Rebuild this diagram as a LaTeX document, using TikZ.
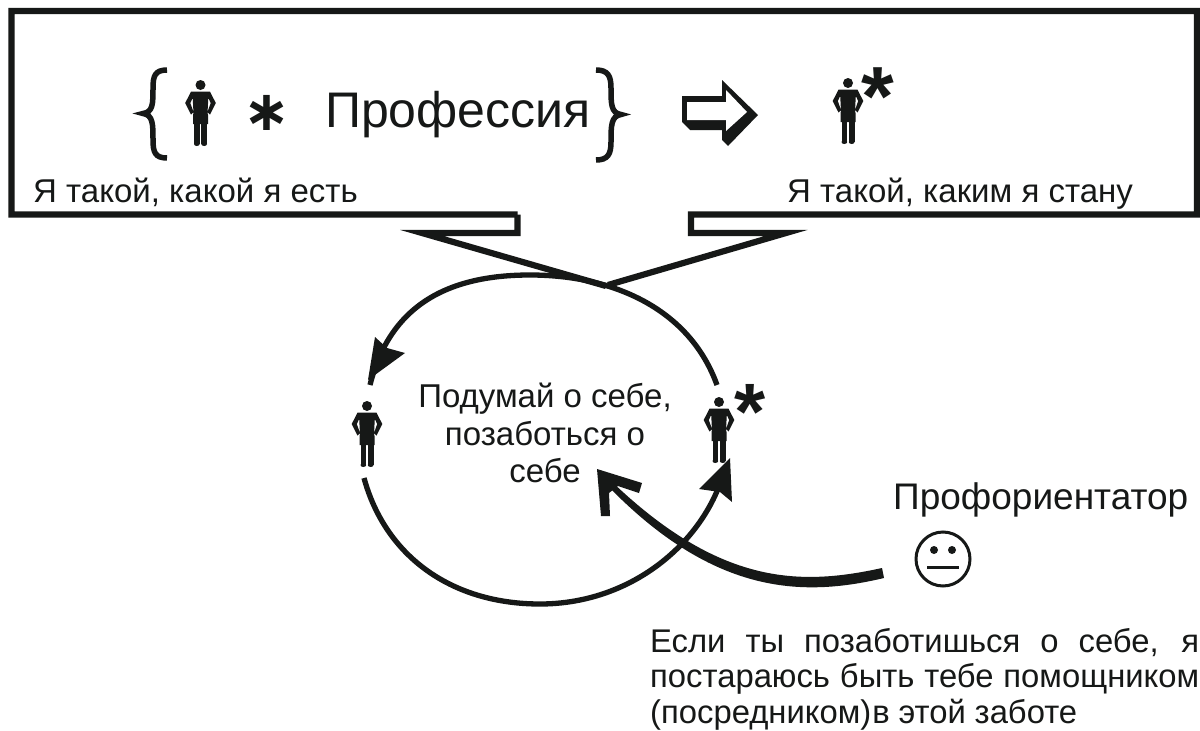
\documentclass[tikz,border=0pt]{standalone}
\usepackage{fontspec}
\setmainfont{Liberation Sans}
\newfontfamily\djv{DejaVu Sans}[Scale=1]
\definecolor{ink}{HTML}{161817}
\newcommand{\fsz}[1]{\fontsize{#1}{#1}\selectfont}
\tikzset{
  x=1pt,y=-1pt,
  inkline/.style={draw=ink,line width=#1,line join=miter},
  lbl/.style={text=ink,inner sep=0pt,anchor=base},
  lbll/.style={text=ink,inner sep=0pt,anchor=base west},
  person/.pic={
    \fill[ink] (0,0) circle[radius=5];
    \fill[ink] (-9.5,6.7) -- (9.5,6.7) -- (15.3,18) -- (9.5,29.5) -- (7,27) -- (10.2,18) -- (7.8,13) -- (7,28) -- (7.5,30) -- (7.5,39) -- (-7.5,39) -- (-7.5,30) -- (-7,28) -- (-7.8,13) -- (-10.2,18) -- (-7,27) -- (-9.5,29.5) -- (-15.3,18) -- cycle;
    \fill[ink] (-6.5,38) rectangle (-0.8,59);
    \fill[ink] (0.8,38) rectangle (6.5,59);
    \fill[ink] (-3.65,59) circle[x radius=2.85,y radius=2];
    \fill[ink] (3.65,59) circle[x radius=2.85,y radius=2];
  }
}
\begin{document}
\begin{tikzpicture}
\useasboundingbox (0,0) rectangle (1200,731);
\fill[white] (0,0) rectangle (1200,731);
% callout outline
\draw[inkline=6.2pt] (517.5,214.5) -- (11.5,214.5) -- (11.5,11) -- (1197,11) -- (1197,214.5) -- (691,214.5) -- (691,233) -- (786,233) -- (608,285);
\draw[inkline=6.2pt] (606,286) -- (422,233) -- (517.5,233) -- (517.5,214.5);
% braces
\draw[ink,line width=5.5pt] (167,70) .. controls (155,70) and (153,76) .. (153,88) .. controls (153,104) and (153,112) .. (143,113.5) .. controls (153,115) and (153,124) .. (153,140) .. controls (153,152) and (155,158) .. (167,158);
\draw[ink,line width=5.5pt] (596,70) .. controls (608,70) and (611,76) .. (611,88) .. controls (611,104) and (611,113) .. (621,114.5) .. controls (611,116) and (611,126) .. (611,142) .. controls (611,154) and (608,160) .. (596,160);
% persons
\pic at (200.5,85) {person};
\pic at (848,83) {person};
\pic at (367,406) {person};
\pic at (719,402) {person};
% titles
\node[lbl] (star1) at (267,130) {\djv\bfseries\fsz{56}∗};
\node[lbll] (prof) at (325,127) {\fsz{50}Профессия};
\node[lbl] (star2) at (878,125) {\bfseries\fsz{84}*};
\node[lbl] (star3) at (750,439) {\bfseries\fsz{80}*};
\node[lbll] (l1) at (33,202) {\fsz{33}Я такой, какой я есть};
\node[lbll] (l2) at (787,202) {\fsz{33}Я такой, каким я стану};
% block arrow
\fill[ink] (682,96) -- (722,96) -- (722,80) -- (758,115) -- (728,146) -- (722,140) -- (722,130) -- (690,130) -- (682,122) -- cycle;
\fill[white] (687,102) -- (726,102) -- (726,90) -- (747,112) -- (726,131) -- (726,120) -- (687,120) -- cycle;
% circle arcs
\coordinate (a1) at (717,385);
\coordinate (a2) at (370,385);
\coordinate (b1) at (364,478);
\coordinate (b2) at (722,478);
\draw[ink,line width=5.3pt] (a1) .. controls (690,310) and (615,275) .. (530,275) .. controls (448,275) and (390,305) .. (a2);
\fill[ink] (368,380) -- (375,337) -- (387,348) -- (405,353) -- cycle;
\draw[ink,line width=5.3pt] (b1) .. controls (385,555) and (450,604) .. (540,604) .. controls (630,604) and (700,545) .. (b2);
\fill[ink] (730,458) -- (699,489) -- (720,492) -- (732,502) -- cycle;
% centre text
\node[lbl] (c1) at (545,407) {\fsz{33}Подумай о себе,};
\node[lbl] (c2) at (545,445) {\fsz{33}позаботься о};
\node[lbl] (c3) at (545,482) {\fsz{33}себе};
% thick arrow
\fill[ink] (882,568) .. controls (800,586) and (719,586) .. (608,478) -- (604,482) .. controls (711,594) and (800,598) .. (884,578) -- cycle;
\fill[ink] (597,469) -- (642,483) -- (639,493) -- (618,486) -- (609,493) -- (610,516) -- (601,516) -- cycle;
% right
\node[lbll] (pf) at (893,509) {\fsz{37}Профориентатор};
\draw[ink,line width=3pt] (943,559) circle[radius=27];
\fill[ink] (934,550) circle[radius=4];
\fill[ink] (952,550) circle[radius=4];
\draw[ink,line width=3pt] (927,567) -- (959,567);
\node[lbll] (e1) at (650,652) {\fsz{32.8}\makebox[549pt][s]{Если ты позаботишься о себе, я}};
\node[lbll] (e2) at (650,687.5) {\fsz{32.8}\makebox[549pt][s]{постараюсь быть тебе помощником}};
\node[lbll] (e3) at (650,723.5) {\fsz{32.8}\makebox[427pt][s]{(посредником)\hspace{1pt}в этой заботе}};
\end{tikzpicture}
\end{document}
